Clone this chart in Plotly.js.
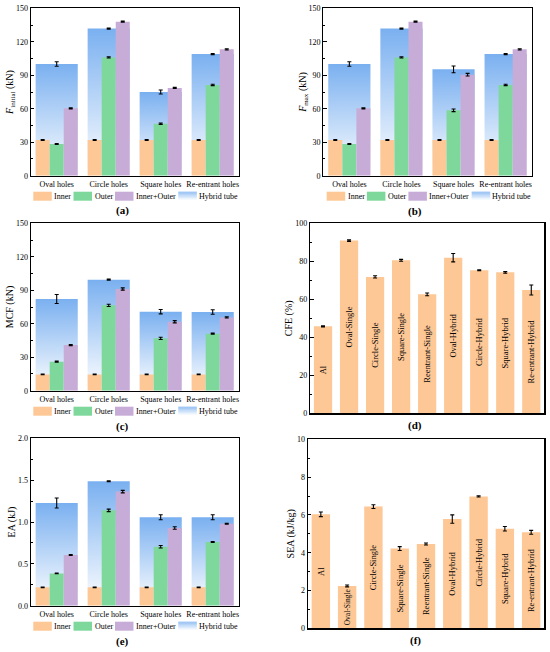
<!DOCTYPE html>
<html><head><meta charset="utf-8">
<script src="https://cdn.plot.ly/plotly-3.0.1.min.js"></script>
<style>html,body{margin:0;padding:0;background:#fff}#chart{width:550px;height:652px}</style>
</head><body><div id="chart"></div>
<script>
// ---------------- data ----------------
const groups = ['Oval holes', 'Circle holes', 'Square holes', 'Re-entrant holes'];
const seriesNames = ['Inner', 'Outer', 'Inner+Outer', 'Hybrid tube'];

// (a) F_initial (kN)
const aInner = [32, 32, 32, 32];
const aInnerErr = [0.4, 0.4, 0.4, 0.4];
const aOuter = [28.4, 106, 46.6, 81.3];
const aOuterErr = [0.5, 0.6, 0.6, 0.6];
const aIO = [60.4, 138, 78.6, 113.2];
const aIOErr = [0.5, 0.5, 0.5, 0.5];
const aHybrid = [100.1, 131.8, 75, 109];
const aHybridErr = [2, 0.5, 1.8, 0.5];

// (b) F_max (kN)
const bInner = [32, 32, 32, 32];
const bInnerErr = [0.4, 0.4, 0.4, 0.4];
const bOuter = [28.4, 106, 58.6, 81.3];
const bOuterErr = [0.5, 0.6, 1.2, 0.6];
const bIO = [60.4, 138, 90.5, 113.2];
const bIOErr = [0.5, 0.5, 1.2, 0.5];
const bHybrid = [100.1, 131.8, 95.3, 109];
const bHybridErr = [2, 0.5, 3, 0.5];

// (c) MCF (kN)
const cInner = [14.6, 14.6, 14.6, 14.6];
const cInnerErr = [0.3, 0.3, 0.3, 0.3];
const cOuter = [26, 76.5, 46.9, 51.1];
const cOuterErr = [0.5, 1, 1, 0.5];
const cIO = [40.9, 91.1, 61.8, 65.7];
const cIOErr = [0.5, 1, 1, 0.5];
const cHybrid = [82.2, 99.5, 70.8, 70.5];
const cHybridErr = [4, 0.5, 2, 2];

// (e) EA (kJ)
const eInner = [0.219, 0.219, 0.219, 0.219];
const eInnerErr = [0.003, 0.003, 0.003, 0.003];
const eOuter = [0.386, 1.139, 0.705, 0.761];
const eOuterErr = [0.005, 0.015, 0.015, 0.005];
const eIO = [0.606, 1.363, 0.928, 0.98];
const eIOErr = [0.005, 0.015, 0.015, 0.005];
const eHybrid = [1.227, 1.486, 1.056, 1.056];
const eHybridErr = [0.06, 0.005, 0.03, 0.03];

// (d) CFE (%) and (f) SEA (kJ/kg)
const specimens = ['Al', 'Oval-Single', 'Circle-Single', 'Square-Single', 'Reentrant-Single',
                   'Oval-Hybrid', 'Circle-Hybrid', 'Square-Hybrid', 'Re-entrant-Hybrid'];
const cfe = [45.8, 90.9, 71.8, 80.5, 62.6, 81.9, 75.3, 74.2, 64.9];
const cfeErr = [0.3, 0.4, 0.6, 0.5, 0.7, 2.2, 0.2, 0.4, 2.6];
const sea = [6.03, 2.24, 6.44, 4.22, 4.46, 5.78, 6.98, 5.27, 5.08];
const seaErr = [0.12, 0.05, 0.1, 0.1, 0.05, 0.22, 0.03, 0.12, 0.1];

// ---------------- style ----------------
const W = 550, H = 652;
const FONT = 'Liberation Serif, Times New Roman, serif';
const ORANGE = 'rgb(253,200,150)';
const GREEN = 'rgb(126,216,155)';
const PURPLE = 'rgb(200,172,216)';
const BLUE = 'rgb(122,176,240)';
const HALF = 0.405;
const px = v => v / W;
const py = v => 1 - v / H;

const traces = [];
const layout = {
  width: W, height: H, autosize: false,
  margin: {l: 0, r: 0, t: 0, b: 0, pad: 0},
  paper_bgcolor: '#fff', plot_bgcolor: '#fff',
  font: {family: FONT, size: 8, color: '#000'},
  showlegend: false,
  barmode: 'group', bargap: 0.19, bargroupgap: 0,
  shapes: [], annotations: []
};

function yAxis(domainTop, domainBot, range, dtick, minor, title, anchor, fmt) {
  return {
    domain: [py(domainBot), py(domainTop)], anchor: anchor,
    range: range, tick0: 0, dtick: dtick, tickformat: fmt || '',
    ticks: 'inside', ticklen: 3.5, tickwidth: 1, tickcolor: '#000',
    minor: {dtick: minor, ticks: 'inside', ticklen: 2, tickwidth: 1, tickcolor: '#000'},
    showline: true, linecolor: '#000', linewidth: 1.2, mirror: true,
    showgrid: false, zeroline: false, fixedrange: true,
    tickfont: {size: 8, family: FONT},
    title: {text: title, font: {size: 10, family: FONT}, standoff: 0}
  };
}
function xAxisGroups(l, r, anchor) {
  return {
    domain: [px(l), px(r)], anchor: anchor, range: [-0.5, 3.5],
    tickvals: [0, 1, 2, 3], ticktext: groups, ticks: '',
    showline: true, linecolor: '#000', linewidth: 1.2, mirror: true,
    showgrid: false, zeroline: false, fixedrange: true,
    tickfont: {size: 8, family: FONT}
  };
}
function xAxisPlain(l, r, anchor, n) {
  return {
    domain: [px(l), px(r)], anchor: anchor, range: [-0.5, n - 0.5],
    showticklabels: false, ticks: '',
    showline: true, linecolor: '#000', linewidth: 1.2, mirror: true,
    showgrid: false, zeroline: false, fixedrange: true
  };
}
function overlayAxis(base, range) {
  return {overlaying: base, range: range, visible: false, showticklabels: false,
          showgrid: false, zeroline: false, fixedrange: true};
}

const errStyle = (arr) => ({type: 'data', array: arr, visible: true, color: '#000', thickness: 1.1, width: 2});

function groupedPanel(p) {
  // hybrid tube (gradient filled) on the base subplot
  p.hybrid.forEach((v, i) => {
    traces.push({
      type: 'scatter', xaxis: p.xa, yaxis: p.ya,
      x: [i - HALF, i - HALF, i + HALF, i + HALF], y: [0, v, v, 0],
      mode: 'lines', line: {width: 0, color: 'rgba(0,0,0,0)'},
      fill: 'toself',
      fillgradient: {type: 'vertical', colorscale: [[0, 'rgb(255,255,255)'], [1, BLUE]]},
      hoverinfo: 'skip', showlegend: false
    });
  });
  traces.push({
    type: 'scatter', xaxis: p.xa, yaxis: p.ya, x: [0, 1, 2, 3], y: p.hybrid,
    mode: 'markers', marker: {size: 2, color: 'rgba(0,0,0,0)'},
    error_y: errStyle(p.hybridErr), hoverinfo: 'skip', showlegend: false
  });
  // grouped bars on overlaying y axis (drawn above the hybrid)
  [[p.inner, p.innerErr, ORANGE], [p.outer, p.outerErr, GREEN], [p.io, p.ioErr, PURPLE]].forEach(s => {
    traces.push({
      type: 'bar', xaxis: p.xa, yaxis: p.yo, x: [0, 1, 2, 3], y: s[0],
      marker: {color: s[2], line: {width: 0}}, error_y: errStyle(s[1]),
      hoverinfo: 'skip', showlegend: false
    });
  });
}

function singlePanel(p) {
  traces.push({
    type: 'bar', xaxis: p.xa, yaxis: p.ya, x: p.cats.map((c, i) => i), y: p.vals,
    width: 0.7, marker: {color: ORANGE, line: {width: 0}}, error_y: errStyle(p.err),
    text: p.cats, textposition: 'inside', insidetextanchor: 'middle', textangle: -90,
    insidetextfont: {size: 8.5, family: FONT, color: '#000'},
    hoverinfo: 'skip', showlegend: false
  });
}

// panel geometry (pixels)
const L1 = 30.7, R1 = 238.7;

// (a)
layout.xaxis = xAxisGroups(L1, R1, 'y');
layout.yaxis = yAxis(8.3, 175.7, [0, 150], 30, 15, '<i>F</i><sub>initial</sub> (kN)', 'x');
layout.yaxis7 = overlayAxis('y', [0, 150]);
groupedPanel({xa: 'x', ya: 'y', yo: 'y7', inner: aInner, innerErr: aInnerErr, outer: aOuter, outerErr: aOuterErr,
  io: aIO, ioErr: aIOErr, hybrid: aHybrid, hybridErr: aHybridErr});

// (b)
layout.xaxis2 = xAxisGroups(323.3, 531.7, 'y2');
layout.yaxis2 = yAxis(8.3, 175.7, [0, 150], 30, 15, '<i>F</i><sub>max</sub> (kN)', 'x2');
layout.yaxis8 = overlayAxis('y2', [0, 150]);
groupedPanel({xa: 'x2', ya: 'y2', yo: 'y8', inner: bInner, innerErr: bInnerErr, outer: bOuter, outerErr: bOuterErr,
  io: bIO, ioErr: bIOErr, hybrid: bHybrid, hybridErr: bHybridErr});

// (c)
layout.xaxis3 = xAxisGroups(L1, R1, 'y3');
layout.yaxis3 = yAxis(223.3, 390.7, [0, 150], 30, 15, 'MCF (kN)', 'x3');
layout.yaxis9 = overlayAxis('y3', [0, 150]);
groupedPanel({xa: 'x3', ya: 'y3', yo: 'y9', inner: cInner, innerErr: cInnerErr, outer: cOuter, outerErr: cOuterErr,
  io: cIO, ioErr: cIOErr, hybrid: cHybrid, hybridErr: cHybridErr});

// (d)
layout.xaxis4 = xAxisPlain(310, 544.3, 'y4', specimens.length);
layout.yaxis4 = yAxis(223.3, 413.3, [0, 100], 20, 10, 'CFE (%)', 'x4');
singlePanel({xa: 'x4', ya: 'y4', cats: specimens, vals: cfe, err: cfeErr});

// (e)
layout.xaxis5 = xAxisGroups(L1, R1, 'y5');
layout.yaxis5 = yAxis(438.3, 605.7, [0, 2], 0.5, 0.25, 'EA (kJ)', 'x5', '.1f');
layout.yaxis10 = overlayAxis('y5', [0, 2]);
groupedPanel({xa: 'x5', ya: 'y5', yo: 'y10', inner: eInner, innerErr: eInnerErr, outer: eOuter, outerErr: eOuterErr,
  io: eIO, ioErr: eIOErr, hybrid: eHybrid, hybridErr: eHybridErr});

// (f)
layout.xaxis6 = xAxisPlain(307.7, 544.3, 'y6', specimens.length);
layout.yaxis6 = yAxis(439.3, 628.3, [0, 10], 2, 1, 'SEA (kJ/kg)', 'x6');
singlePanel({xa: 'x6', ya: 'y6', cats: specimens, vals: sea, err: seaErr});

// ---------------- legends (drawn as swatches + text) ----------------
function addLegend(dx, cy) {
  const sw = [[33.3, ORANGE], [73.5, GREEN], [115, PURPLE], [178.3, null]];
  const tx = [53.3, 93.8, 135, 198];
  sw.forEach((s, k) => {
    const x0 = s[0] + dx, x1 = s[0] + dx + 18.5, y0 = cy - 4.5, y1 = cy + 4.5;
    if (s[1]) {
      layout.shapes.push({type: 'rect', xref: 'paper', yref: 'paper',
        x0: px(x0), x1: px(x1), y0: py(y1), y1: py(y0), fillcolor: s[1], line: {width: 0}});
    } else {
      const n = 12;
      for (let j = 0; j < n; j++) {
        const t = 1 - j / (n - 1); // 1 at top
        const c = [255 + (122 - 255) * t, 255 + (176 - 255) * t, 255 + (240 - 255) * t].map(Math.round);
        const ya = y0 + (y1 - y0) * j / n, yb = y0 + (y1 - y0) * (j + 1) / n;
        layout.shapes.push({type: 'rect', xref: 'paper', yref: 'paper',
          x0: px(x0), x1: px(x1), y0: py(yb), y1: py(ya),
          fillcolor: 'rgb(' + c.join(',') + ')', line: {width: 0}});
      }
    }
    layout.annotations.push({xref: 'paper', yref: 'paper', x: px(tx[k] + dx), y: py(cy),
      xanchor: 'left', yanchor: 'middle', showarrow: false, text: seriesNames[k],
      font: {size: 8, family: FONT, color: '#000'}, borderpad: 0});
  });
}
addLegend(0, 196.2);
addLegend(293.4, 196.2);
addLegend(0, 411.2);
addLegend(0, 626.2);

// captions
[['(a)', 122.5, 210.7], ['(b)', 414.5, 211.5], ['(c)', 122.5, 426.7],
 ['(d)', 415, 425.7], ['(e)', 122.5, 641.7], ['(f)', 415, 640.7]].forEach(c => {
  layout.annotations.push({xref: 'paper', yref: 'paper', x: px(c[1]), y: py(c[2]),
    xanchor: 'center', yanchor: 'middle', showarrow: false, text: '<b>' + c[0] + '</b>',
    font: {size: 11, family: FONT, color: '#000'}});
});

Plotly.newPlot('chart', traces, layout, {staticPlot: true, displayModeBar: false});
</script>
</body></html>
